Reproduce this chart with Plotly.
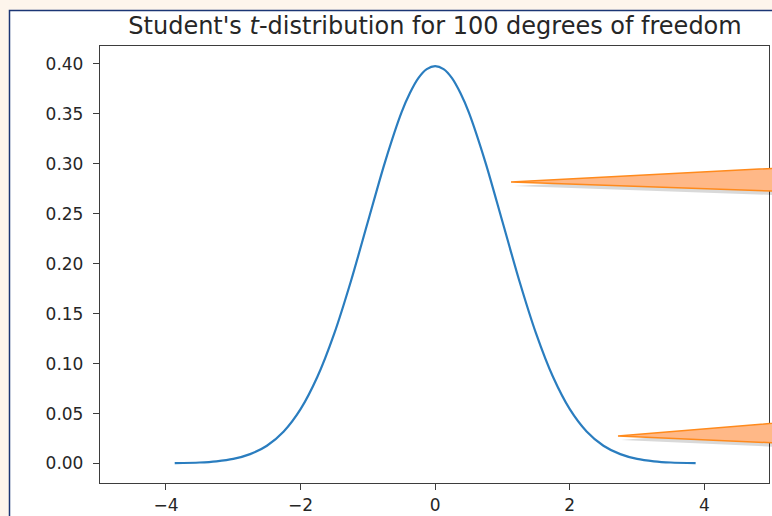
import plotly.graph_objects as go

# ---- data ----
x_vals = [-3.87, -3.5, -3.25, -3.0, -2.75, -2.5, -2.25, -2.0, -1.75, -1.5, -1.25, -1.0,
          -0.75, -0.5, -0.375, -0.25, -0.125, 0.0, 0.125, 0.25, 0.375, 0.5, 0.75, 1.0,
          1.25, 1.5, 1.75, 2.0, 2.25, 2.5, 2.75, 3.0, 3.25, 3.5, 3.87]
pdf_vals = [0.0003, 0.0010, 0.0022, 0.0046, 0.0094, 0.0178, 0.0321, 0.0544, 0.0868, 0.1300,
            0.1830, 0.2420, 0.3008, 0.3515, 0.3709, 0.3858, 0.3948, 0.3979, 0.3948, 0.3858,
            0.3709, 0.3515, 0.3008, 0.2420, 0.1830, 0.1300, 0.0868, 0.0544, 0.0321, 0.0178,
            0.0094, 0.0046, 0.0022, 0.0010, 0.0003]
x_ticks = [-4, -2, 0, 2, 4]
x_tick_labels = ["\u22124", "\u22122", "0", "2", "4"]
y_ticks = [0.00, 0.05, 0.10, 0.15, 0.20, 0.25, 0.30, 0.35, 0.40]
title_text = "Student's <i>t</i>-distribution for 100 degrees of freedom"

W, H = 772, 516
L, R, T, B = 100, 3, 46, 33
PW, PH = W - L - R, H - T - B


def px(xp):
    return (xp - L) / PW


def py(yp):
    return (H - B - yp) / PH


def tri_path(pts):
    return "M " + " L ".join(f"{px(a):.5f},{py(b):.5f}" for a, b in pts) + " Z"


fig = go.Figure()
fig.add_trace(go.Scatter(x=x_vals, y=pdf_vals, mode="lines",
                         line=dict(color="#2a7dbf", width=2.2, shape="spline", smoothing=0.8),
                         hoverinfo="skip", showlegend=False))

shapes = []
# white card with navy border
shapes.append(dict(type="rect", xref="paper", yref="paper", layer="below",
                   x0=px(9.5), x1=px(830), y0=py(10.5), y1=py(560),
                   fillcolor="white", line=dict(color="#1b3675", width=1.5)))

# callout triangles (with soft shadow)
tri1 = [(511, 182), (800, 167), (800, 192)]
tri2 = [(618, 436), (800, 421), (800, 444)]
for tri in (tri1, tri2):
    shadow = [(a + 3, b + 4) for a, b in tri]
    shapes.append(dict(type="path", xref="paper", yref="paper", layer="above",
                       path=tri_path(shadow), fillcolor="rgba(0,0,0,0.15)",
                       line=dict(width=0)))
    shapes.append(dict(type="path", xref="paper", yref="paper", layer="above",
                       path=tri_path(tri), fillcolor="#ffb887",
                       line=dict(color="#ff8a1c", width=1.5)))

axis_common = dict(showline=True, linecolor="#3d3d3d", linewidth=1.3, mirror=True,
                   ticks="outside", ticklen=6, tickwidth=1.2, tickcolor="#3d3d3d",
                   showgrid=False, zeroline=False, automargin=False,
                   tickfont=dict(family="DejaVu Sans", size=17, color="#262626"))

fig.update_layout(
    template="none",
    width=W, height=H,
    margin=dict(l=L, r=R, t=T, b=B, pad=0, autoexpand=False),
    paper_bgcolor="#fdf5ec",
    plot_bgcolor="white",
    shapes=shapes,
    title=dict(text=title_text, x=px(435), xref="paper", xanchor="center",
               y=1 - 26 / H, yref="container", yanchor="middle",
               font=dict(family="DejaVu Sans", size=24, color="#262626")),
    xaxis=dict(range=[-4.98, 4.96], tickvals=x_ticks, ticktext=x_tick_labels,
               ticklabelstandoff=0, **axis_common),
    yaxis=dict(range=[-0.0195, 0.418], tickvals=y_ticks, tickformat=".2f",
               ticklabelstandoff=6, **axis_common),
)

fig.write_html("out.html", config={"displayModeBar": False},
               post_script="document.body.style.margin='0';document.body.style.overflow='hidden';")
